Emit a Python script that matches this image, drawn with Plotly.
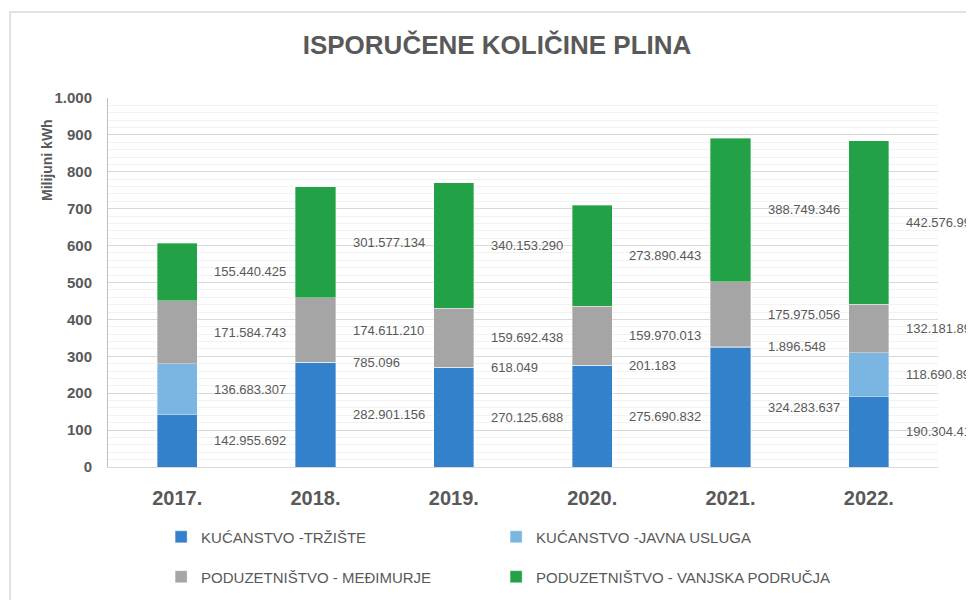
import plotly.graph_objects as go

years = ["2017.", "2018.", "2019.", "2020.", "2021.", "2022."]
kucanstvo_trziste = [142955692, 282901156, 270125688, 275690832, 324283637, 190304412]
kucanstvo_javna = [136683307, 785096, 618049, 201183, 1896548, 118690895]
poduz_medimurje = [171584743, 174611210, 159692438, 159970013, 175975056, 132181892]
poduz_vanjska = [155440425, 301577134, 340153290, 273890443, 388749346, 442576995]

series_names = ["KUĆANSTVO -TRŽIŠTE", "KUĆANSTVO -JAVNA USLUGA",
                "PODUZETNIŠTVO - MEĐIMURJE", "PODUZETNIŠTVO - VANJSKA PODRUČJA"]
series_values = [kucanstvo_trziste, kucanstvo_javna, poduz_medimurje, poduz_vanjska]
colors = ["#3481CB", "#7AB6E1", "#A5A5A5", "#23A146"]
legend_ids = ["legend", "legend", "legend2", "legend2"]

y_tick_vals = [0, 100, 200, 300, 400, 500, 600, 700, 800, 900, 1000]
y_tick_text = ["0", "100", "200", "300", "400", "500", "600", "700", "800", "900", "1.000"]

FONT = "Liberation Sans Narrow, Liberation Sans, Arial, sans-serif"
TXT = "#595959"

fig = go.Figure()
for name, vals, col, lg in zip(series_names, series_values, colors, legend_ids):
    fig.add_trace(go.Bar(
        x=years, y=[v / 1e6 for v in vals], name=name,
        marker=dict(color=col, line=dict(color="rgba(255,255,255,0.6)", width=0.6)),
        legend=lg, hoverinfo="skip",
    ))

def fmt(v):
    return f"{v:,}".replace(",", ".")

base = [0.0] * len(years)
for vals in series_values:
    for i, v in enumerate(vals):
        mid = base[i] + v / 1e6 / 2
        fig.add_annotation(x=i, y=mid, text=fmt(v), showarrow=False,
                           xanchor="left", yanchor="middle", xshift=35,
                           font=dict(family=FONT, size=13, color=TXT))
        base[i] += v / 1e6

# y-axis title near the top
fig.add_annotation(xref="paper", yref="paper", x=0, y=0.832, xshift=-61,
                   xanchor="center", yanchor="middle",
                   text="<b>Milijuni kWh</b>", textangle=-90, showarrow=False,
                   font=dict(family=FONT, size=14, color=TXT))

# chart border
fig.add_shape(type="rect", xref="paper", yref="paper", x0=-0.118, x1=1.3,
              y0=-1.0, y1=1.233, line=dict(color="#D9D9D9", width=1.5),
              fillcolor="rgba(0,0,0,0)", layer="below")

fig.update_layout(
    width=974, height=600,
    margin=dict(l=100, r=44, t=90, b=141),
    paper_bgcolor="white", plot_bgcolor="white",
    barmode="stack", bargap=0.71,
    separators=",.",
    title=dict(text="<b>ISPORUČENE KOLIČINE PLINA</b>", x=489 / 974, xanchor="center",
               y=1 - 37 / 600, yanchor="middle", yref="container",
               font=dict(family=FONT, size=26, color=TXT)),
    font=dict(family=FONT, color=TXT),
    legend=dict(orientation="h", x=0.064, xanchor="left", y=-0.19, yanchor="middle",
                entrywidth=290, traceorder="normal",
                font=dict(family=FONT, size=15, color=TXT),
                bgcolor="rgba(0,0,0,0)"),
    legend2=dict(orientation="h", x=0.064, xanchor="left", y=-0.298, yanchor="middle",
                 entrywidth=290, traceorder="normal",
                 font=dict(family=FONT, size=15, color=TXT),
                 bgcolor="rgba(0,0,0,0)"),
    showlegend=True,
)

fig.update_yaxes(range=[0, 1000], autorange=False, automargin=False,
                 tickvals=y_tick_vals, ticktext=["<b>" + t + "</b>" for t in y_tick_text],
                 tickfont=dict(family=FONT, size=15, color=TXT),
                 showgrid=True, gridcolor="#D9D9D9", gridwidth=1,
                 minor=dict(dtick=20, showgrid=True, gridcolor="#F2F2F2", gridwidth=1),
                 showline=True, linecolor="#BFBFBF", linewidth=1,
                 ticks="outside", ticklen=12, tickcolor="rgba(0,0,0,0)",
                 zeroline=False)
fig.update_xaxes(type="category", categoryorder="array", categoryarray=years,
                 range=[-0.5, len(years) - 0.5], autorange=False, automargin=False,
                 tickfont=dict(family=FONT, size=20, color=TXT),
                 showline=True, linecolor="#D9D9D9", linewidth=1,
                 ticks="outside", ticklen=13, tickcolor="rgba(0,0,0,0)",
                 tickprefix="<b>", ticksuffix="</b>")

fig.write_html("out.html")
